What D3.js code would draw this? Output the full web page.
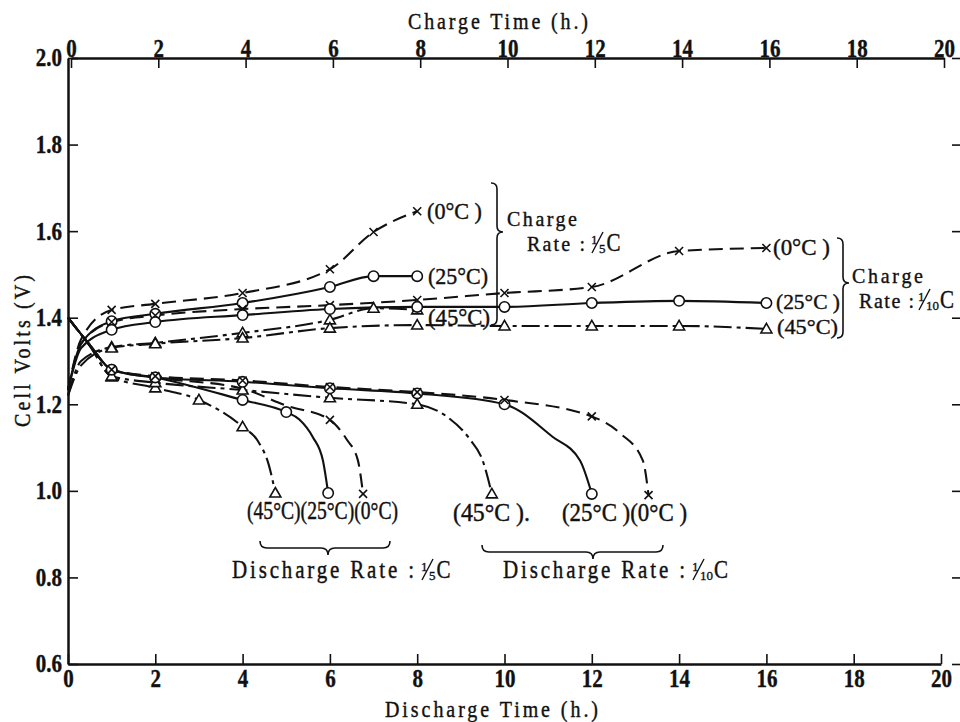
<!DOCTYPE html>
<html lang="en">
<head>
<meta charset="UTF-8">
<title>cell volts</title>
<script src="https://d3js.org/d3.v7.min.js"></script>
<style>
    html, body {
        margin: 0;
        padding: 0;
        background: #fff;
    }
    svg { display: block; }
    text {
        font-family: "Liberation Serif", "DejaVu Serif", serif;
        fill: #111;
        stroke: #111;
        stroke-width: 0.35px;
    }
</style>
</head>
<body>
<script>
    // tick labels
    const hourTicks = [0, 2, 4, 6, 8, 10, 12, 14, 16, 18, 20];
    const voltTicks = [0.6, 0.8, 1.0, 1.2, 1.4, 1.6, 1.8, 2.0];

    // charge, rate 1/5 C (top axis)
    const ch5Hours = [0, 0.3, 1, 2, 4, 6, 7, 8];
    const ch5_0C  = [1.233, 1.35, 1.418, 1.432, 1.457, 1.512, 1.598, 1.646];
    const ch5_25C = [1.233, 1.34, 1.392, 1.409, 1.434, 1.471, 1.496, 1.496];
    const ch5_45C = [1.22, 1.30, 1.332, 1.342, 1.365, 1.395, 1.422, 1.418];
    const ch5Marks = [1, 2, 4, 6, 7, 8];

    // charge, rate 1/10 C (top axis)
    const ch10Hours = [0, 0.3, 1, 2, 4, 6, 8, 10, 12, 14, 16];
    const ch10_0C  = [1.233, 1.34, 1.39, 1.405, 1.42, 1.429, 1.441, 1.457, 1.471, 1.554, 1.561];
    const ch10_25C = [1.233, 1.33, 1.372, 1.39, 1.406, 1.42, 1.425, 1.425, 1.434, 1.439, 1.434];
    const ch10_45C = [1.22, 1.29, 1.33, 1.34, 1.353, 1.376, 1.383, 1.381, 1.381, 1.381, 1.374];
    const ch10Marks = [1, 2, 4, 6, 8, 10, 12, 14, 16];

    // discharge, rate 1/5 C (bottom axis)
    const dis5_45C_h = [0, 0.5, 1, 2, 3, 4, 4.35, 4.6, 4.75];
    const dis5_45C   = [1.40, 1.335, 1.263, 1.238, 1.21, 1.148, 1.115, 1.06, 0.995];
    const dis5_45C_marks = [1, 2, 3, 4, 4.75];
    const dis5_25C_h = [0, 0.5, 1, 2, 4, 5, 5.3, 5.61, 5.84, 5.96];
    const dis5_25C   = [1.40, 1.337, 1.28, 1.262, 1.21, 1.182, 1.165, 1.124, 1.07, 0.995];
    const dis5_25C_marks = [1, 2, 4, 5, 5.96];
    const dis5_0C_h = [0, 0.5, 1, 2, 4, 5, 6, 6.39, 6.64, 6.76];
    const dis5_0C   = [1.40, 1.337, 1.28, 1.262, 1.236, 1.197, 1.164, 1.118, 1.071, 0.993];
    const dis5_0C_marks = [1, 2, 4, 6, 6.76];

    // discharge, rate 1/10 C (bottom axis)
    const dis10_45C_h = [0, 0.5, 1, 2, 4, 6, 8, 8.7, 9.2, 9.5, 9.71];
    const dis10_45C   = [1.40, 1.335, 1.265, 1.25, 1.233, 1.215, 1.20, 1.17, 1.12, 1.07, 0.993];
    const dis10_45C_marks = [1, 2, 4, 6, 8, 9.71];
    const dis10_25C_h = [0, 0.5, 1, 2, 4, 6, 8, 10, 11.1, 11.73, 12];
    const dis10_25C   = [1.40, 1.337, 1.28, 1.262, 1.252, 1.237, 1.225, 1.2, 1.125, 1.07, 0.993];
    const dis10_25C_marks = [1, 2, 4, 6, 8, 10, 12];
    const dis10_0C_h = [0, 0.5, 1, 2, 4, 6, 8, 10, 12, 12.65, 13.17, 13.3];
    const dis10_0C   = [1.40, 1.337, 1.28, 1.265, 1.255, 1.24, 1.228, 1.21, 1.172, 1.133, 1.07, 0.99];
    const dis10_0C_marks = [1, 2, 4, 6, 8, 10, 12, 13.3];

    const series = [
        {h: ch5Hours, v: ch5_0C, marks: ch5Marks, t: "0"},
        {h: ch5Hours, v: ch5_25C, marks: ch5Marks, t: "25"},
        {h: ch5Hours, v: ch5_45C, marks: ch5Marks, t: "45"},
        {h: ch10Hours, v: ch10_0C, marks: ch10Marks, t: "0"},
        {h: ch10Hours, v: ch10_25C, marks: ch10Marks, t: "25"},
        {h: ch10Hours, v: ch10_45C, marks: ch10Marks, t: "45"},
        {h: dis5_45C_h, v: dis5_45C, marks: dis5_45C_marks, t: "45"},
        {h: dis5_25C_h, v: dis5_25C, marks: dis5_25C_marks, t: "25"},
        {h: dis5_0C_h, v: dis5_0C, marks: dis5_0C_marks, t: "0"},
        {h: dis10_45C_h, v: dis10_45C, marks: dis10_45C_marks, t: "45"},
        {h: dis10_25C_h, v: dis10_25C, marks: dis10_25C_marks, t: "25"},
        {h: dis10_0C_h, v: dis10_0C, marks: dis10_0C_marks, t: "0"}
    ];

    const width = 960, height = 722;
    const dash = {"0": "14,7", "25": null, "45": "18,5,4,5"};

    const x = d3.scaleLinear().domain([0, 20]).range([68, 941]);
    const y = d3.scaleLinear().domain([0.6, 2.0]).range([664, 58]);

    const svg = d3.select("body").append("svg")
        .attr("width", width)
        .attr("height", height);

    // axes
    function styleAxis(g) {
        g.attr("font-family", null).attr("font-size", null);
        g.select(".domain").attr("stroke", "#111").attr("stroke-width", 2.5);
        g.selectAll(".tick line").attr("stroke", "#111").attr("stroke-width", 1.6);
        g.selectAll(".tick text")
            .attr("font-size", 21)
            .attr("font-weight", "bold")
            .attr("transform", "scale(1,1.18)");
    }

    // the scan's top axis sits a few pixels to the right of the bottom one
    svg.append("g")
        .attr("transform", `translate(3,${y(2.0)})`)
        .call(d3.axisTop(x).tickValues(hourTicks).tickSize(-10).tickSizeOuter(0).tickPadding(1))
        .call(styleAxis);

    svg.append("g")
        .attr("transform", `translate(0,${y(0.6)})`)
        .call(d3.axisBottom(x).tickValues(hourTicks).tickSize(-10).tickSizeOuter(0).tickPadding(5))
        .call(styleAxis);

    svg.append("g")
        .attr("transform", `translate(${x(0)},0)`)
        .call(d3.axisLeft(y).tickValues(voltTicks).tickSize(-10).tickSizeOuter(0).tickPadding(6)
            .tickFormat(d3.format(".1f")))
        .call(styleAxis);

    svg.append("g")
        .attr("transform", `translate(962,0)`)
        .call(d3.axisRight(y).tickValues(voltTicks).tickSize(-10).tickSizeOuter(0).tickFormat(""))
        .call(styleAxis);

    // curves
    const line = d3.line()
        .x(d => x(d[0]))
        .y(d => y(d[1]))
        .curve(d3.curveMonotoneX);

    const plot = svg.append("g");

    plot.selectAll("path.curve")
        .data(series)
        .join("path")
        .attr("class", "curve")
        .attr("fill", "none")
        .attr("stroke", "#111")
        .attr("stroke-width", 2.1)
        .attr("stroke-dasharray", d => dash[d.t])
        .attr("d", d => line(d.h.map((h, i) => [h, d.v[i]])));

    const markPath = {
        "0": "M-4,-4L4,4M-4,4L4,-4",
        "25": d3.symbol(d3.symbolCircle, 85)(),
        "45": "M0,-5.5L5.5,4L-5.5,4Z"
    };

    const markData = series.flatMap(s =>
        s.h.map((h, i) => ({h: h, v: s.v[i], t: s.t})).filter(p => s.marks.includes(p.h)));

    plot.selectAll("path.mark")
        .data(markData)
        .join("path")
        .attr("class", "mark")
        .attr("transform", d => `translate(${x(d.h)},${y(d.v)})`)
        .attr("d", d => markPath[d.t])
        .attr("fill", d => d.t === "0" ? "none" : "#fff")
        .attr("stroke", "#111")
        .attr("stroke-width", 1.6);

    // text helpers
    function label(px, py, str, len, opts = {}) {
        const t = svg.append("text")
            .attr("transform", `translate(${px},${py}) scale(1,${opts.sy || 1.2})`)
            .attr("font-size", opts.size || 20)
            .attr("text-anchor", opts.anchor || "start")
            .text(str);
        if (len) t.attr("textLength", len).attr("lengthAdjust", opts.adjust || "spacingAndGlyphs");
        return t;
    }

    // slanted fraction "1/n" followed by C
    function fraction(px, py, num, den) {
        svg.append("text")
            .attr("x", px).attr("y", py - 7)
            .attr("font-size", 13)
            .text(num);
        svg.append("path")
            .attr("fill", "none").attr("stroke", "#111").attr("stroke-width", 1.4)
            .attr("d", `M${px + 1},${py + 2}L${px + 12},${py - 19}`);
        const d = svg.append("text")
            .attr("x", px + 8).attr("y", py + 2)
            .attr("font-size", 13)
            .text(den);
        const dw = d.node().getComputedTextLength();
        label(px + 9 + dw, py, "C", null, {size: 21});
    }

    function vBrace(x0, ya, yb, ym, d) {
        const r = 6;
        svg.append("path")
            .attr("fill", "none").attr("stroke", "#111").attr("stroke-width", 1.6)
            .attr("d", `M${x0 - d},${ya}Q${x0},${ya} ${x0},${ya + r}L${x0},${ym - r}` +
                `Q${x0},${ym} ${x0 + d},${ym}Q${x0},${ym} ${x0},${ym + r}` +
                `L${x0},${yb - r}Q${x0},${yb} ${x0 - d},${yb}`);
    }

    function hBrace(y0, xa, xb, xm, d) {
        const r = 7;
        svg.append("path")
            .attr("fill", "none").attr("stroke", "#111").attr("stroke-width", 1.6)
            .attr("d", `M${xa},${y0 - d}Q${xa},${y0} ${xa + r},${y0}L${xm - r},${y0}` +
                `Q${xm},${y0} ${xm},${y0 + d}Q${xm},${y0} ${xm + r},${y0}` +
                `L${xb - r},${y0}Q${xb},${y0} ${xb},${y0 - d}`);
    }

    // axis titles
    label(408, 29, "Charge Time (h.)", 180, {size: 20, sy: 1.15, adjust: "spacing"});
    label(385, 717, "Discharge Time (h.)", 213, {size: 20, sy: 1.15, adjust: "spacing"});
    svg.append("text")
        .attr("transform", "translate(30,351) rotate(-90) scale(1,1.2)")
        .attr("font-size", 20)
        .attr("text-anchor", "middle")
        .attr("textLength", 152)
        .attr("lengthAdjust", "spacing")
        .text("Cell Volts (V)");

    // charge labels, 1/5 C
    label(427, 219, "(0°C )", 55);
    label(428, 284, "(25°C)", 60);
    label(428, 325, "(45°C)", 62);
    vBrace(497, 183, 325, 232, 6);
    label(507, 226, "Charge", 70, {size: 20, sy: 1.05, adjust: "spacing"});
    label(527, 251, "Rate :", 58, {size: 20, sy: 1.05, adjust: "spacing"});
    fraction(591, 251, "1", "5");

    // charge labels, 1/10 C
    label(773, 255, "(0°C )", 57);
    label(776, 309, "(25°C )", 64, {size: 19, sy: 1.15});
    label(777, 334, "(45°C)", 61, {size: 19, sy: 1.15});
    vBrace(843, 238, 338, 283, 6);
    label(852, 283, "Charge", 71, {size: 20, sy: 1.05, adjust: "spacing"});
    label(859, 308, "Rate :", 55, {size: 20, sy: 1.05, adjust: "spacing"});
    fraction(918, 308, "1", "10");

    // discharge labels
    label(247, 519, "(45°C)(25°C)(0°C)", 151, {sy: 1.3});
    label(453, 521, "(45°C ).", 77, {sy: 1.25});
    label(562, 521, "(25°C )(0°C )", 125, {sy: 1.25});
    hBrace(548, 260, 390, 328, 7);
    hBrace(552, 482, 663, 593, 7);
    label(232, 578, "Discharge Rate :", 182, {size: 21, adjust: "spacing"});
    fraction(421, 578, "1", "5");
    label(503, 578, "Discharge Rate :", 182, {size: 21, adjust: "spacing"});
    fraction(692, 578, "1", "10");
</script>
</body>
</html>
